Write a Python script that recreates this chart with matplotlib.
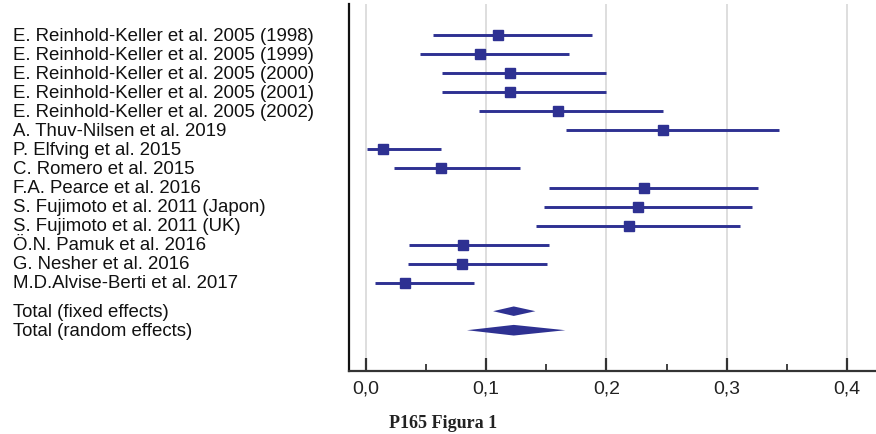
import matplotlib
matplotlib.use("Agg")
import matplotlib.pyplot as plt
from matplotlib.transforms import blended_transform_factory
from matplotlib.ticker import FixedLocator

studies = [
    "E. Reinhold-Keller et al. 2005 (1998)",
    "E. Reinhold-Keller et al. 2005 (1999)",
    "E. Reinhold-Keller et al. 2005 (2000)",
    "E. Reinhold-Keller et al. 2005 (2001)",
    "E. Reinhold-Keller et al. 2005 (2002)",
    "A. Thuv-Nilsen et al. 2019",
    "P. Elfving et al. 2015",
    "C. Romero et al. 2015",
    "F.A. Pearce et al. 2016",
    "S. Fujimoto et al. 2011 (Japon)",
    "S. Fujimoto et al. 2011 (UK)",
    "Ö.N. Pamuk et al. 2016",
    "G. Nesher et al. 2016",
    "M.D.Alvise-Berti et al. 2017",
]
estimate = [0.110, 0.095, 0.120, 0.120, 0.160, 0.247, 0.0144, 0.062, 0.231, 0.2266, 0.2185, 0.0807, 0.080, 0.0324]
ci_low   = [0.056, 0.045, 0.063, 0.063, 0.094, 0.166, 0.001, 0.0236, 0.1525, 0.148, 0.1417, 0.0355, 0.035, 0.0072]
ci_high  = [0.188, 0.169, 0.200, 0.200, 0.247, 0.344, 0.062, 0.128, 0.326, 0.321, 0.3114, 0.1522, 0.1508, 0.0896]

totals = ["Total (fixed effects)", "Total (random effects)"]
total_est  = [0.1229, 0.1229]
total_low  = [0.1057, 0.084]
total_high = [0.1409, 0.1658]

x_ticks = [0.0, 0.1, 0.2, 0.3, 0.4]
x_ticklabels = ["0,0", "0,1", "0,2", "0,3", "0,4"]

navy = "#2E3192"
plt.rcParams["font.family"] = ["Liberation Sans", "DejaVu Sans"]

fig = plt.figure(figsize=(8.76, 4.35), dpi=100)
ax = fig.add_axes([0.3988, 0.1441, 0.6012, 0.8444])

n = len(studies)
ypos = list(range(n))
total_pos = [n + 0.5, n + 1.5]

for x in x_ticks:
    ax.axvline(x, color="#d8d8d8", lw=1.2, zorder=0)

for y, e, lo, hi in zip(ypos, estimate, ci_low, ci_high):
    ax.plot([lo, hi], [y, y], color=navy, lw=2.1, solid_capstyle="butt", zorder=2)
    ax.plot([e], [y], marker="s", ms=7.4, color=navy, mec=navy, zorder=3)

heights = [0.25, 0.28]
for y, e, lo, hi, h in zip(total_pos, total_est, total_low, total_high, heights):
    ax.fill([lo, e, hi, e], [y, y - h, y, y + h], color=navy, lw=0, zorder=3)

ax.set_xlim(-0.0139, 0.4243)
ax.set_ylim(17.66, -1.645)

ax.spines["top"].set_visible(False)
ax.spines["right"].set_visible(False)
ax.spines["left"].set_linewidth(1.6)
ax.spines["bottom"].set_linewidth(1.6)
ax.spines["left"].set_color("#111111")
ax.spines["bottom"].set_color("#333333")

ax.set_yticks([])
ax.xaxis.set_major_locator(FixedLocator(x_ticks))
ax.set_xticklabels(x_ticklabels)
ax.xaxis.set_minor_locator(FixedLocator([0.05, 0.15, 0.25, 0.35]))
ax.tick_params(axis="x", which="major", direction="in", length=9.4, width=1.6,
               color="#333333", labelsize=14, labelcolor="#222222", pad=6)
ax.tick_params(axis="x", which="minor", direction="in", length=5, width=1.3, color="#333333")

tr = blended_transform_factory(fig.transFigure, ax.transData)
for y, s in zip(ypos, studies):
    ax.text(0.0148, y, s, transform=tr, ha="left", va="center", fontsize=13.4, color="#111111")
for y, s in zip(total_pos, totals):
    ax.text(0.0148, y, s, transform=tr, ha="left", va="center", fontsize=13.4, color="#111111")

fig.text(443 / 876, 1 - 424 / 435, "P165 Figura 1", ha="center", va="center",
         fontsize=13, fontweight="bold", family=["Liberation Serif", "DejaVu Serif"], color="#222222")

fig.savefig("out.png", dpi=100)
